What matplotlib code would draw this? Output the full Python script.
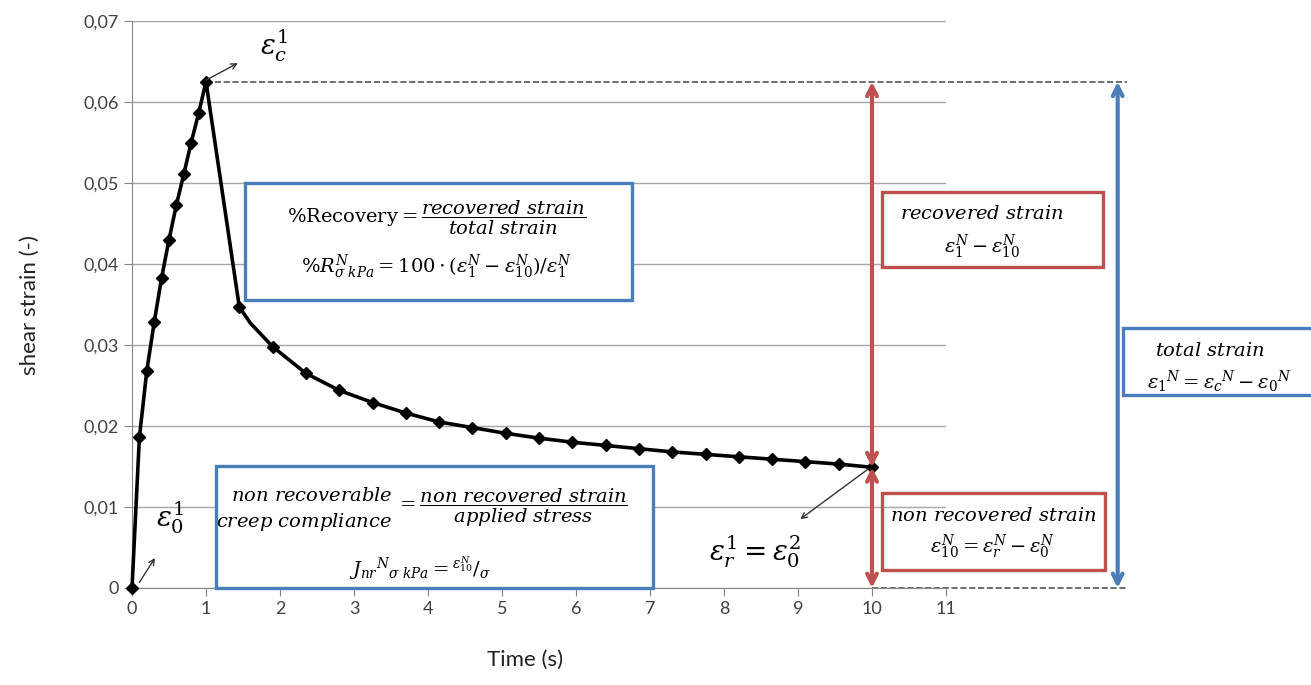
import matplotlib.pyplot as plt
from matplotlib.patches import Rectangle

plt.rcParams['mathtext.fontset'] = 'dejavuserif'
plt.rcParams['font.family'] = ['Lato', 'DejaVu Sans']

# creep phase (0-1 s) and recovery phase (1-10 s)
load_time = [0.0, 0.1, 0.2, 0.3, 0.4, 0.5, 0.6, 0.7, 0.8, 0.9, 1.0]
load_strain = [0.0, 0.0186, 0.0268, 0.0328, 0.0383, 0.0430, 0.0473, 0.0511,
               0.0550, 0.0586, 0.0625]
rec_time = [1.45, 1.6, 1.9, 2.35, 2.8, 3.25, 3.7, 4.15, 4.6, 5.05, 5.5, 5.95,
            6.4, 6.85, 7.3, 7.75, 8.2, 8.65, 9.1, 9.55, 10.0]
rec_strain = [0.0347, 0.0327, 0.0298, 0.0265, 0.0244, 0.0229, 0.0216, 0.0205,
              0.0198, 0.0191, 0.0185, 0.0180, 0.0176, 0.0172, 0.0168, 0.0165,
              0.0162, 0.0159, 0.0156, 0.0153, 0.0149]
rec_marker = [True, False] + [True] * 19

x_ticks = list(range(12))
y_ticks = [0, 0.01, 0.02, 0.03, 0.04, 0.05, 0.06, 0.07]
y_tick_labels = ['0', '0,01', '0,02', '0,03', '0,04', '0,05', '0,06', '0,07']

RED = '#C0504D'
BLUE = '#4A7EBB'
GRID = '#A6A6A6'

W, H = 1311, 685


def fx(px):
    return px / W


def fy(py):
    return 1 - py / H


fig = plt.figure(figsize=(13.11, 6.85), dpi=100)
ax = fig.add_axes([fx(132), fy(588), fx(946) - fx(132), fy(21) - fy(588)])

time = load_time + rec_time
strain = load_strain + rec_strain
marks = [True] * len(load_time) + rec_marker
ax.plot(time, strain, color='black', lw=2.6, marker='D', ms=6,
        markevery=marks, zorder=3, clip_on=False)

peak = max(strain)
end = rec_strain[-1]

ax.set_xlim(0, 11)
ax.set_ylim(0, 0.07)
ax.set_xticks(x_ticks)
ax.set_yticks(y_ticks)
ax.set_yticklabels(y_tick_labels)
ax.yaxis.grid(True, color=GRID, lw=1)
ax.set_axisbelow(True)
for s in ['top', 'right']:
    ax.spines[s].set_visible(False)
for s in ['left', 'bottom']:
    ax.spines[s].set_color('#868686')
ax.tick_params(colors='#868686', labelcolor='#404040', labelsize=13,
               length=6, direction='out')

fig.text(fx(30), fy(305), 'shear strain (-)', rotation=90, fontsize=16,
         ha='center', va='center', color='#222222')
fig.text(fx(525), fy(660), 'Time (s)', fontsize=16, ha='center',
         va='center', color='#222222')

# dashed reference levels
ax.plot([1, 13.45], [peak, peak], ls='--', color='#555555', lw=1.2,
        clip_on=False, zorder=2)
ax.plot([10, 13.45], [0, 0], ls='--', color='#555555', lw=1.2,
        clip_on=False, zorder=2)

# double arrows
arrow = '<->,head_length=0.7,head_width=0.35'
ax.annotate('', xy=(10, peak), xytext=(10, end), annotation_clip=False,
            arrowprops=dict(arrowstyle=arrow, color=RED, lw=3,
                            shrinkA=0, shrinkB=0), zorder=4)
ax.annotate('', xy=(10, end), xytext=(10, 0), annotation_clip=False,
            arrowprops=dict(arrowstyle=arrow, color=RED, lw=3,
                            shrinkA=0, shrinkB=0), zorder=4)
ax.annotate('', xy=(13.32, peak), xytext=(13.32, 0), annotation_clip=False,
            arrowprops=dict(arrowstyle=arrow, color=BLUE, lw=3,
                            shrinkA=0, shrinkB=0), zorder=4)

# small pointer arrows
thin = dict(arrowstyle='->', color='#333333', lw=1, shrinkA=0, shrinkB=0)
ax.annotate('', xy=(1.43, 0.0648), xytext=(1.0, peak + 0.0002),
            arrowprops=thin, annotation_clip=False)
ax.annotate('', xy=(0.31, 0.0037), xytext=(0.1, 0.0007),
            arrowprops=thin, annotation_clip=False)
ax.annotate('', xy=(9.03, 0.0085), xytext=(9.95, end - 0.0002),
            arrowprops=thin, annotation_clip=False)

fig.text(fx(274), fy(46), r'$\varepsilon_{c}^{1}$', fontsize=20,
         ha='center', va='center')
fig.text(fx(170), fy(518), r'$\varepsilon_{0}^{1}$', fontsize=20,
         ha='center', va='center')
fig.text(fx(755), fy(552), r'$\varepsilon_{r}^{1} = \varepsilon_{0}^{2}$',
         fontsize=20, ha='center', va='center')


def box(x0, y0, x1, y1, color, fill='white'):
    fig.add_artist(Rectangle((fx(x0), fy(y1)), fx(x1) - fx(x0), fy(y0) - fy(y1),
                             transform=fig.transFigure, facecolor=fill,
                             edgecolor=color, lw=2.4, zorder=5))


def txt(px, py, s, size=14, ha='center'):
    fig.text(fx(px), fy(py), s, fontsize=size, ha=ha, va='center', zorder=6)


# %Recovery box
box(245, 183, 632, 300, BLUE)
txt(437, 218, r'$\%\mathrm{Recovery} = \dfrac{\mathit{recovered\ strain}}{\mathit{total\ strain}}$')
txt(437, 267, r'$\%R^{N}_{\sigma\ kPa} = 100\cdot(\varepsilon^{N}_{1}-\varepsilon^{N}_{10})/\varepsilon^{N}_{1}$')

# Jnr box
box(216, 466, 653, 588, BLUE)
txt(392, 495, r'$\mathit{non\ recoverable}$', ha='right')
txt(392, 522, r'$\mathit{creep\ compliance}$', ha='right')
txt(396, 508, r'$= \dfrac{\mathit{non\ recovered\ strain}}{\mathit{applied\ stress}}$', ha='left')
txt(420, 568, r'$J_{nr}{}^{N}{}_{\sigma\ kPa} = {}^{\varepsilon^{N}_{10}}/_{\sigma}$')

# recovered / non recovered boxes
box(882, 192, 1103, 267, RED)
txt(982, 213, r'$\mathit{recovered\ strain}$')
txt(982, 247, r'$\varepsilon^{N}_{1} - \varepsilon^{N}_{10}$')

box(882, 493, 1105, 570, RED, fill='none')
txt(993, 515, r'$\mathit{non\ recovered\ strain}$')
txt(993, 547, r'$\varepsilon^{N}_{10} = \varepsilon^{N}_{r} - \varepsilon^{N}_{0}$')

# total strain box
box(1123, 328, 1330, 395, BLUE)
txt(1210, 350, r'$\mathit{total\ strain}$')
txt(1220, 382, r'$\varepsilon_{1}{}^{N} = \varepsilon_{c}{}^{N} - \varepsilon_{0}{}^{N}$')

fig.savefig('out.png', dpi=100)
